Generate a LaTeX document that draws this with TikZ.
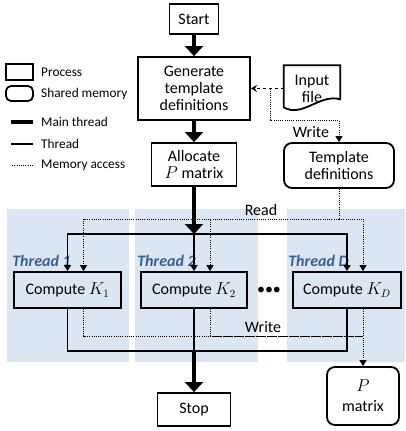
\documentclass[tikz,border=0pt]{standalone}
\usepackage{fontspec}
\setmainfont{Carlito}
\usepackage{tikz}
\usetikzlibrary{arrows.meta,calc,positioning}
\definecolor{panel}{HTML}{DCE6F2}
\definecolor{thrd}{HTML}{376092}
\tikzset{proc/.style={draw,line width=1.8pt,align=center,inner sep=2pt,font=\fontsize{16}{17}\selectfont},
	mem/.style={proc,rounded corners=8pt},
	main/.style={line width=4pt,-{Triangle[width=18pt,length=10pt]}},
	sub/.style={line width=1.6pt},
	acc/.style={line width=1pt,dash pattern=on 1pt off 1.2pt},
	arr/.style={-{Triangle[width=7pt,length=6pt]}},
	lbl/.style={font=\fontsize{16}{17}\selectfont},
	leg/.style={anchor=west,inner sep=0pt,font=\fontsize{13.3}{15}\selectfont},
	thlab/.style={anchor=base west,inner sep=0pt,text=thrd,font=\fontsize{16}{18}\selectfont\bfseries\itshape}}

\begin{document}
\begin{tikzpicture}[x=1pt,y=-1pt]
	\useasboundingbox (0,0) rectangle (405,431);
	
	\fill[panel] (7,209) rectangle (129,362);
	\fill[panel] (135,209) rectangle (258,362);
	\fill[panel] (287,209) rectangle (405,362);
	
	\node[proc,minimum width=49pt,minimum height=30pt] (start) at (194,19) {Start};
	\node[proc,minimum width=112pt,minimum height=63pt] (gen) at (194,88.5) {Generate\\template\\definitions};
	\node[proc,minimum width=85pt,minimum height=43pt] (alloc) at (194,164.5) {Allocate\\$P$ matrix};
	\node[mem,minimum width=110pt,minimum height=45pt] (tmpl) at (339,165.5) {Template\\definitions};
	\node[lbl,align=center,minimum width=56pt,minimum height=46pt] (infile) at (312,88.5) {Input\\file};
	\draw[line width=1.8pt] (infile.north west) -- (infile.north east) -- ($(infile.north east)+(0,34)$) .. controls ($(infile.north east)+(-20,28)$) and ($(infile.north west)+(18,53)$) .. ($(infile.north west)+(0,42)$) -- cycle;
	
	\node[proc,minimum width=107pt,minimum height=36pt] (k1) at (67.5,290) {Compute $K_1$};
	\node[proc,minimum width=106pt,minimum height=36pt] (k2) at (194,290) {Compute $K_2$};
	\node[proc,minimum width=108pt,minimum height=36pt] (kD) at (347,290) {Compute $K_D$};
	\node[lbl] (dots) at (269,291) {\textbullet\textbullet\textbullet};
	\node[proc,minimum width=73pt,minimum height=33pt] (stop) at (194,409.5) {Stop};
	\node[mem,minimum width=72pt,minimum height=58pt] (pmat) at (363,396) {$P$\\[3pt]matrix};
	
	\node[thlab] (th1) at ($(k1.north west)+(-1,-5)$) {Thread 1};
	\node[thlab] (th2) at ($(k2.north west)+(-3,-5)$) {Thread 2};
	\node[thlab] (thD) at ($(kD.north west)+(-4,-5)$) {Thread D};
	
	\node[lbl] (read) at (261,210) {Read};
	\node[lbl] (write1) at (311,132) {Write};
	\node[lbl] (write2) at (263,327) {Write};
	
	\draw[main] (start) -- (gen);
	\draw[main] (gen) -- (alloc);
	
	\draw[dashed,line width=1.5pt,-{Stealth[width=7pt,length=6pt]}] (infile) -- (gen);
	\coordinate (fj) at (270,88.5);
	\draw[acc,arr] (fj) |- ($(tmpl.north)+(0,-22)$) -- (tmpl);
	
	\coordinate (split) at (194,234);
	\draw[sub,arr] (split) -| (k1);
	\draw[sub,arr] (split) -- (k2);
	\draw[sub,arr] (split) -| (kD);
	\draw[main] (alloc) -- (split);
	
	\coordinate (rd) at (339,219);
	\draw[acc] (tmpl) -- (rd);
	\draw[acc,arr] (rd) -| ($(k1.north)+(16,0)$);
	\draw[acc,arr] (rd) -| ($(k2.north)+(16,0)$);
	\draw[acc,arr] (rd) -| ($(kD.north)+(16,0)$);
	
	\coordinate (wr) at (363,336);
	\draw[acc] ($(k1.south)+(16,0)$) |- (wr);
	\draw[acc] ($(k2.south)+(16,0)$) |- (wr);
	\draw[acc,arr] ($(kD.south)+(16,0)$) -- (pmat);
	
	\coordinate (join) at (194,351);
	\draw[sub] (k1) |- (join);
	\draw[sub] (kD) |- (join);
	\draw[sub] (k2) -- (join);
	\draw[main] (join) -- (stop);
	
	\node[proc,minimum width=27pt,minimum height=16pt] (lproc) at (19.5,72) {};
	\node[leg] (lproctxt) at (41,72) {Process};
	\node[mem,rounded corners=5pt,minimum width=27pt,minimum height=15pt] (lmem) at (19.5,93.5) {};
	\node[leg] (lmemtxt) at (41,94) {Shared memory};
	\node[leg] (lmain) at (41,122) {Main thread};
	\node[leg] (lsub) at (41,144) {Thread};
	\node[leg] (lacc) at (41,165) {Memory access};
	\draw[line width=4pt] ([xshift=-8pt]lmain.west) -- ++(-22,0);
	\draw[sub] ([xshift=-8pt]lsub.west) -- ++(-22,0);
	\draw[acc] ([xshift=-8pt]lacc.west) -- ++(-22,0);
\end{tikzpicture}
\end{document}
